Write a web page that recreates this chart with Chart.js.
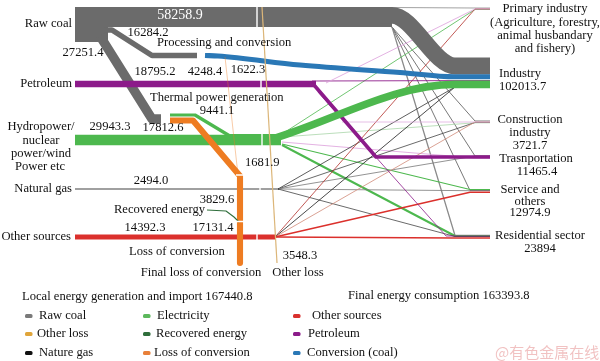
<!DOCTYPE html>
<html>
<head>
<meta charset="utf-8">
<script src="https://cdn.jsdelivr.net/npm/chart.js@4.4.0/dist/chart.umd.min.js"></script>
<style>
  html, body { margin: 0; padding: 0; background: #fff; }
  #wrap { width: 600px; height: 361px; position: relative; }
  #fontprobe { position: absolute; left: -999px; top: 0; font-family: "Liberation Serif"; }
</style>
</head>
<body>
<div id="wrap"><canvas id="sankey"></canvas></div>
<span id="fontprobe">Raw coal 有色金属在线</span>
<script>
// ---- values ----
const coalSplit = [58258.9, 16284.2, 27251.4];   // direct use, processing, thermal power
const coalConverted = 14661.9;                    // conversion (coal), blue
const processingLoss = 1622.3;
const processingOut = 4248.4;
const thermalOut = [9441.1, 17812.6];             // electricity, loss of conversion
const petroleum = 18795.2;
const electricity = 29943.3;
const naturalGas = 2494.0;
const otherSources = 14392.3;
const lossIn = 1681.9;
const recovered = 3829.6;
const finalLoss = 17131.4;
const otherLoss = 3548.3;
const totalIn = 167440.8;
const totalOut = 163393.8;

const consumers = ['Primary industry', 'Industry', 'Construction industry', 'Trasnportation', 'Service and others', 'Residential sector'];
const consumerTotals = [null, 102013.7, 3721.7, 11465.4, 12974.9, 23894];

// estimated split of each source over the consumers (same order as consumers)
const coalTo  = [900, 49000, 1300, 1400, 1900, 3700];
const elecTo  = [1500, 22000, 1300, 1600, 3000, 6000];
const petroTo = [800, 2600, 1100, 10500, 0, 1400];
const gasTo   = [0, 700, 500, 500, 800, 600];
const otherTo = [1300, 2400, 1100, 0, 4200, 4500];

// ---- layout ----
const K = 20 / coalSplit[0];                 // px per unit
const w = v => Math.max(0.8, v * K);
const C = {
  coal: '#6b6b6b', blue: '#2a78b6', purple: '#8c1b8a', green: '#4db84e',
  dgreen: '#2f6e3b', orange: '#ee7c22', red: '#db302c', black: '#222',
  tan: '#dcb679', pink: '#dc9edb'
};
const consumerY = [9, 66, 122, 157, 191, 237];
const arriveX = [475, 455, 475, 475, 470, 455];
const fan = { coal: [392, 26], elec: [282, 141], gas: [278, 189], other: [275, 237], petro: [320, 90] };

const datasets = [];
function line(pts, width, color, smooth) {
  datasets.push({
    data: pts.map(p => (p ? { x: p[0], y: p[1] } : { x: null, y: null })),
    borderColor: color, borderWidth: width, pointRadius: 0, fill: false,
    tension: 0, cubicInterpolationMode: smooth ? 'monotone' : 'default',
    borderCapStyle: 'butt', borderJoinStyle: 'round', clip: false, spanGaps: false
  });
}
function flow(src, dst, value, color, dy, startDy) {
  const s = fan[src];
  const y = consumerY[dst] + (dy || 0);
  line([[s[0], s[1] + (startDy || 0)], [arriveX[dst], y], [490, y]], w(value), color);
}

// thin fan lines
flow('coal', 0, coalTo[0], '#8a8a8a', -1, -18.5);
flow('coal', 2, coalTo[2], '#555', -1, 1);
flow('coal', 3, coalTo[3], '#555', -1, 1);
flow('coal', 4, coalTo[4], '#555', -0.5, 1);
flow('coal', 5, coalTo[5], '#8a8a8a', -1.5, 1);
flow('elec', 0, elecTo[0], C.green, 0.5, -7);
flow('elec', 2, elecTo[2], '#a9d6a9', 0.8, -4);
flow('elec', 3, elecTo[3], C.pink, 1, 1);
flow('elec', 4, elecTo[4], C.green, -1.5, 3);
flow('elec', 5, elecTo[5], C.green, -1, 4);
flow('gas', 1, gasTo[1], '#333', 21);
flow('gas', 2, gasTo[2], '#444', 0.5);
flow('gas', 3, gasTo[3], '#777', -1);
flow('gas', 4, gasTo[4], '#777', -0.3);
flow('gas', 5, gasTo[5], '#444', -0.5);
flow('other', 0, otherTo[0], '#b3302b', 0);
flow('other', 1, otherTo[1], '#222', 21);
flow('other', 2, otherTo[2], '#d08a78', 0);
flow('other', 4, otherTo[4], C.red, 1.2);
flow('other', 5, otherTo[5], C.red, 1);
line([[312, 81], [490, 80.5]], w(petroTo[1]), C.purple);
line([[326, 83], [475, 9], [490, 9]], w(petroTo[0]), C.pink);
line([[342, 122], [475, 122], [490, 122]], w(petroTo[2]), '#e0aee0');
line([[318, 92], [446, 236], [490, 236]], w(petroTo[5]), C.purple);

// coal
line([[75, 17], [392, 17]], w(coalSplit[0]), C.coal);
line([[380, 7 + w(coalTo[1]) / 2], [392, 7 + w(coalTo[1]) / 2], [455, consumerY[1]], [490, consumerY[1]]], w(coalTo[1]), C.coal, true);
line([[75, 24.5], [108, 24.5]], w(coalSplit[0] + coalSplit[1] + coalSplit[2]), C.coal);
line([[104, 30], [112, 30], [152, 55.5], [197, 55.5]], w(coalSplit[1]), C.coal);
line([[100, 36], [152, 119], [161, 119]], w(coalSplit[2]), C.coal);

// conversion (coal)
line([[205, 55.5], [218, 56], [300, 65], [400, 72.5], [455, 76.8], [490, 76.8]], w(coalConverted), C.blue, true);

// petroleum
line([[75, 84], [316, 84]], w(petroleum), C.purple);
line([[308, 85], [314, 85], [376, 157], [490, 157]], w(petroTo[3]), C.purple);

// electricity
line([[75, 140], [281, 140]], w(electricity), C.green);
line([[170, 115], [195, 115], [229, 135.5], [281, 135.5]], w(thermalOut[0]), C.green);
line([[272, 139], [455, 84.4], [490, 84.4]], w(elecTo[1]), C.green, true);

// natural gas, other sources
line([[75, 189], [279, 189]], w(naturalGas), C.black);
line([[75, 237], [276, 237]], w(otherSources), C.red);

// loss of conversion
line([[170, 120.5], [193, 120.5], [240, 176], [240, 263]], w(thermalOut[1]), C.orange);
line([[225, 57], [238, 175]], w(processingLoss) * 0.5, C.orange);
line([[262, 7], [277, 263]], w(otherLoss), C.tan);
line([[207, 210], [226, 211], [234, 217], [239, 222]], 1.1, C.dgreen);

// white cut marks
line([[257, 6], [257, 28], null, [261, 80], [261, 88], null, [262, 132], [262, 148], null,
      [260, 187], [260, 191], null, [257, 233], [257, 241], null,
      [236, 175], [244, 175], null, [236, 221.5], [244, 221.5]], 1.4, '#fff');

datasets.forEach((d, i) => { d.order = -i; });

// ---- texts ----
const fmt = v => v.toFixed(1);
const texts = [
  ['Raw coal', 72, 24, 'right'],
  ['Petroleum', 72, 84, 'right'],
  ['Hydropower/', 41, 127, 'center'], ['nuclear', 41, 141, 'center'],
  ['power/wind', 41, 154, 'center'], ['Power etc', 40, 167, 'center'],
  ['Natural gas', 72, 189, 'right'],
  ['Other sources', 71, 237, 'right'],
  [fmt(coalSplit[0]), 180, 15, 'center', '#fff', 14],
  [fmt(coalSplit[2]), 83, 53, 'center'],
  [fmt(coalSplit[1]), 148, 33, 'center'],
  ['Processing and conversion', 157, 43, 'left'],
  [fmt(petroleum), 155, 72, 'center'],
  [fmt(processingOut), 205, 72, 'center'],
  [fmt(processingLoss), 248, 70, 'center'],
  ['Thermal power generation', 150, 98, 'left'],
  [fmt(thermalOut[0]), 217, 111, 'center'],
  [fmt(electricity), 110, 127, 'center'],
  [fmt(thermalOut[1]), 163, 128, 'center'],
  [fmt(lossIn), 245, 163, 'left'],
  [fmt(naturalGas), 151, 181, 'center'],
  [fmt(recovered), 217, 200, 'center'],
  ['Recovered energy', 205, 210, 'right'],
  [fmt(otherSources), 145, 228, 'center'],
  [fmt(finalLoss), 213, 228, 'center'],
  ['Loss of conversion', 177, 252, 'center'],
  [fmt(otherLoss), 300, 256, 'center'],
  ['Final loss of conversion', 201, 273, 'center'],
  ['Other loss', 298, 273, 'center'],
  ['Local energy generation and import ' + fmt(totalIn), 22, 297, 'left'],
  ['Final energy consumption ' + fmt(totalOut), 348, 296, 'left'],
  ['Primary industry', 545, 9, 'center'],
  ['(Agriculture, forestry,', 545, 23, 'center'],
  ['animal husbandary', 545, 36, 'center'],
  ['and fishery)', 545, 49, 'center'],
  ['Industry', 499, 74, 'left'],
  [fmt(consumerTotals[1]), 499, 87, 'left'],
  ['Construction', 530, 120, 'center'],
  ['industry', 530, 133, 'center'],
  [fmt(consumerTotals[2]), 530, 146, 'center'],
  [consumers[3], 536, 159, 'center'],
  [fmt(consumerTotals[3]), 537, 172, 'center'],
  ['Service and', 530, 190, 'center'],
  ['others', 530, 202, 'center'],
  [fmt(consumerTotals[4]), 530, 213, 'center'],
  [consumers[5], 540, 236, 'center'],
  [String(consumerTotals[5]), 540, 249, 'center']
];
const legendItems = [
  ['Raw coal', '#7a7a7a'], ['Other loss', '#e0a53a'], ['Nature gas', '#111'],
  ['Electricity', '#5cb85c'], ['Recovered energy', '#2f6e3b'], ['Loss of conversion', '#e8803a'],
  ['Other sources', '#d9312e'], ['Petroleum', '#8c1b8a'], ['Conversion (coal)', '#2a78b6']
];
const legendCols = [25, 143, 293];
const legendTextX = [[39, 37, 39], [157, 156, 154], [312, 308, 307]];
const legendRows = [316, 334, 353];
const SERIF = '"Liberation Serif", "Times New Roman", Times, serif';

const labelPlugin = {
  id: 'labels',
  afterDatasetsDraw(chart) {
    const { ctx, scales: { x, y } } = chart;
    ctx.save();
    ctx.textBaseline = 'middle';
    texts.forEach(t => {
      ctx.font = (t[5] || 12.6) + 'px ' + SERIF;
      ctx.fillStyle = t[4] || '#111';
      ctx.textAlign = t[3];
      ctx.fillText(t[0], x.getPixelForValue(t[1]), y.getPixelForValue(t[2]));
    });
    ctx.font = '12.6px ' + SERIF;
    legendItems.forEach((it, i) => {
      const col = Math.floor(i / 3), row = i % 3;
      const cx = legendCols[col], cy = legendRows[row];
      ctx.fillStyle = it[1];
      ctx.beginPath();
      ctx.roundRect(x.getPixelForValue(cx), y.getPixelForValue(cy) - 2, 7.5, 4, 1.5);
      ctx.fill();
      ctx.fillStyle = '#111';
      ctx.textAlign = 'left';
      ctx.fillText(it[0], x.getPixelForValue(legendTextX[col][row]), y.getPixelForValue(cy));
    });
    ctx.font = '15px "Noto Sans CJK SC", sans-serif';
    ctx.fillStyle = 'rgba(225,120,120,0.45)';
    ctx.textAlign = 'left';
    ctx.fillText('@有色金属在线', x.getPixelForValue(495), y.getPixelForValue(352));
    ctx.restore();
  }
};

function draw() {
  new Chart(document.getElementById('sankey').getContext('2d'), {
    type: 'line',
    data: { datasets },
    options: {
      responsive: true,
      maintainAspectRatio: false,
      animation: false,
      events: [],
      layout: { padding: 0 },
      plugins: { legend: { display: false }, tooltip: { enabled: false } },
      scales: {
        x: { type: 'linear', min: 0, max: 600, display: false },
        y: { type: 'linear', min: 0, max: 361, reverse: true, display: false }
      }
    },
    plugins: [labelPlugin]
  });
}

Promise.all([
  document.fonts.load('13px "Liberation Serif"'),
  document.fonts.load('15px "Noto Sans CJK SC"')
]).then(draw, draw);
</script>
</body>
</html>
